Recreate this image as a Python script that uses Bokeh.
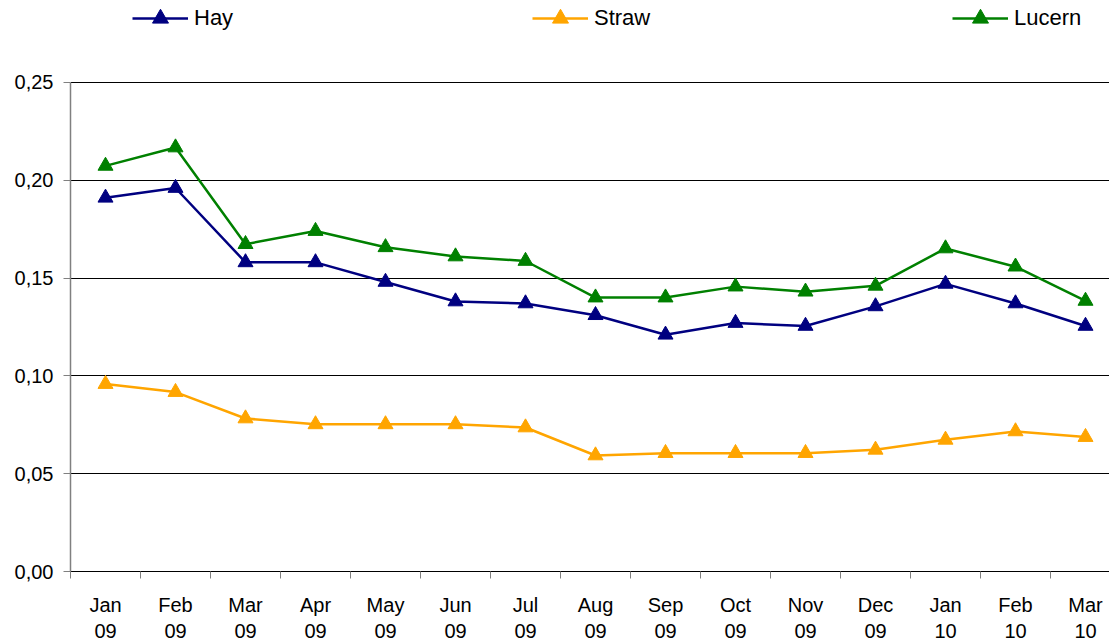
from bokeh.plotting import figure
from bokeh.models import Range1d, FixedTicker, Legend, LegendItem, LinearAxis
from bokeh.embed import file_html
from bokeh.resources import INLINE

months = ["Jan", "Feb", "Mar", "Apr", "May", "Jun", "Jul", "Aug", "Sep", "Oct", "Nov", "Dec", "Jan", "Feb", "Mar"]
years = ["09", "09", "09", "09", "09", "09", "09", "09", "09", "09", "09", "09", "10", "10", "10"]

hay = [0.191, 0.196, 0.158, 0.158, 0.148, 0.138, 0.137, 0.131, 0.121, 0.127, 0.1255, 0.1355, 0.147, 0.137, 0.1255]
straw = [0.0958, 0.0917, 0.0782, 0.0752, 0.0752, 0.0752, 0.0736, 0.0593, 0.0605, 0.0605, 0.0605, 0.0622, 0.0673, 0.0716, 0.0687]
lucern = [0.2073, 0.2167, 0.1673, 0.174, 0.1657, 0.161, 0.1587, 0.14, 0.14, 0.1456, 0.143, 0.146, 0.1651, 0.1558, 0.1383]

y_ticks = [0.0, 0.05, 0.10, 0.15, 0.20, 0.25]
y_tick_labels = ["0,00", "0,05", "0,10", "0,15", "0,20", "0,25"]

series = [("Hay", hay, "#000080"), ("Straw", straw, "#FFA500"), ("Lucern", lucern, "#008000")]

FONT = "Liberation Sans"
TICK_FS = "20px"
n = len(months)
xs = list(range(n))

# frame spans the full top so the legend can sit inside it; axis line bounded to 0..0.25
p = figure(width=1109, height=640, output_backend="svg", toolbar_location=None,
           x_range=Range1d(-0.5, -0.5 + 1039 / 70), y_range=Range1d(0, 0.25 * 572 / 490),
           min_border_left=70, min_border_right=0, min_border_top=0, min_border_bottom=68)
p.outline_line_color = None
p.background_fill_color = "white"
p.border_fill_color = "white"

renderers = {}
for name, vals, col in series:
    l = p.line(xs, vals, line_color=col, line_width=2.5)
    s = p.scatter(xs, vals, marker="triangle", size=15, fill_color=col, line_color=col)
    renderers[name] = (l, s)

# x axis: months row
p.xaxis.ticker = FixedTicker(ticks=xs, minor_ticks=[i - 0.5 for i in range(n + 1)])
p.xaxis.major_label_overrides = {i: months[i] for i in xs}
p.xaxis.major_tick_out = 0
p.xaxis.major_tick_in = 0
p.xaxis.minor_tick_out = 7
p.xaxis.minor_tick_in = 0
p.xaxis.minor_tick_line_color = "#808080"
p.xaxis.axis_line_color = "black"
p.xaxis.major_label_standoff = 15
p.xaxis.major_label_text_font = FONT
p.xaxis.major_label_text_font_size = TICK_FS
p.xaxis.major_label_text_color = "black"

# x axis: years row
ax2 = LinearAxis(ticker=FixedTicker(ticks=xs, minor_ticks=[]),
                 major_label_overrides={i: years[i] for i in xs},
                 axis_line_color=None, major_tick_line_color=None, minor_tick_line_color=None,
                 major_tick_out=0, major_tick_in=0, minor_tick_out=0, minor_tick_in=0,
                 major_label_standoff=5, major_label_text_font=FONT,
                 major_label_text_font_size=TICK_FS, major_label_text_color="black")
p.add_layout(ax2, "below")

p.yaxis.ticker = FixedTicker(ticks=y_ticks)
p.yaxis.bounds = (0, 0.25)
p.yaxis.major_label_overrides = {t: lab for t, lab in zip(y_ticks, y_tick_labels)}
p.yaxis.minor_tick_line_color = None
p.yaxis.major_tick_out = 7
p.yaxis.major_tick_in = 0
p.yaxis.major_tick_line_color = "#808080"
p.yaxis.axis_line_color = "#808080"
p.yaxis.axis_line_width = 1.5
p.yaxis.major_label_standoff = 10
p.yaxis.major_label_text_font = FONT
p.yaxis.major_label_text_font_size = TICK_FS
p.yaxis.major_label_text_color = "black"

p.xgrid.grid_line_color = None
p.ygrid.ticker = FixedTicker(ticks=y_ticks)
p.ygrid.grid_line_color = "black"
p.ygrid.grid_line_width = 1

legend_x = {"Hay": 62, "Straw": 462, "Lucern": 882}
for name, vals, col in series:
    lg = Legend(items=[LegendItem(label=name, renderers=list(renderers[name]))],
                location=(legend_x[name], 533), orientation="horizontal",
                glyph_width=56, glyph_height=40, label_height=40, label_standoff=6,
                padding=0, margin=0, border_line_color=None, background_fill_alpha=0,
                label_text_font=FONT, label_text_font_size="22px", label_text_color="black")
    p.add_layout(lg, "center")

open("out.html", "w").write(file_html(p, INLINE))
